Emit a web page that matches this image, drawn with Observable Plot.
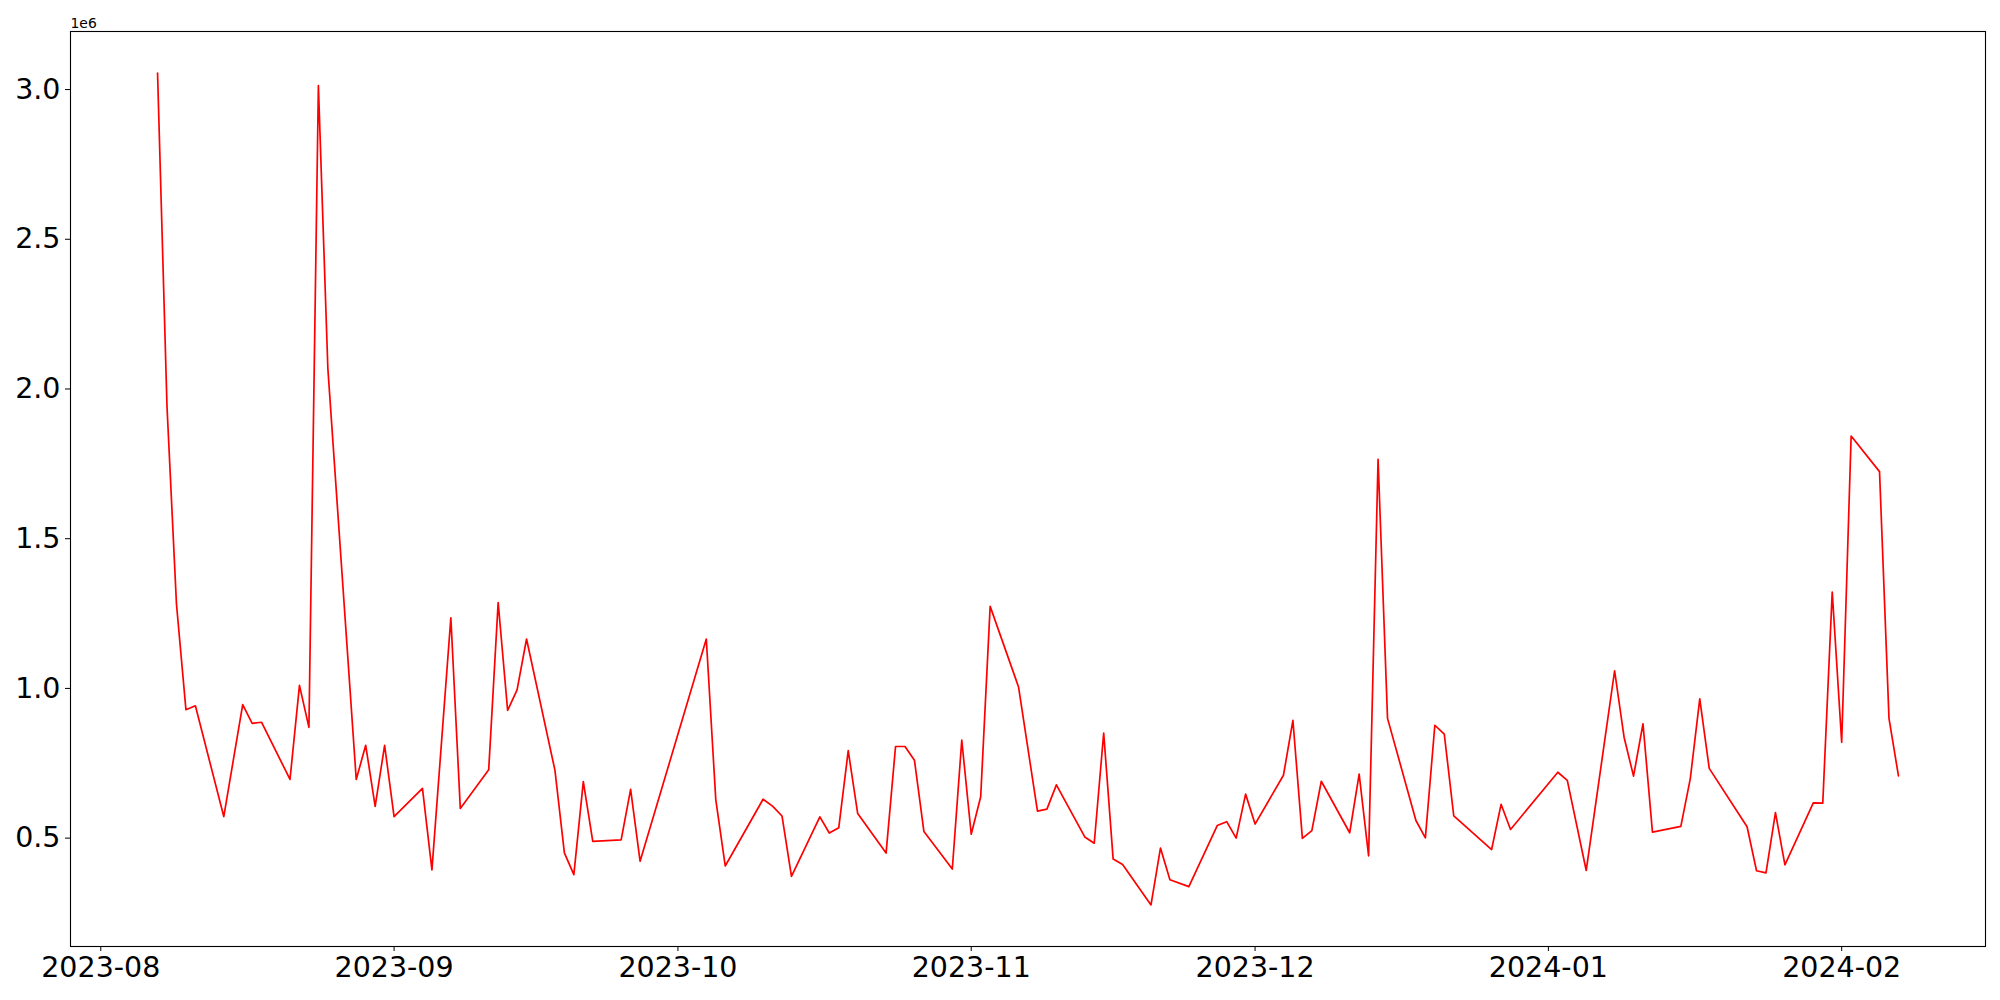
<!DOCTYPE html>
<html>
<head>
<meta charset="utf-8">
<script src="https://cdn.jsdelivr.net/npm/d3@7"></script>
<script src="https://cdn.jsdelivr.net/npm/@observablehq/plot@0.6"></script>
<style>
  html, body { margin: 0; padding: 0; background: #fff; }
  #chart svg { display: block; }
</style>
</head>
<body>
<div id="chart"></div>
<script>
const dates = [
  "2023-08-07","2023-08-08","2023-08-09","2023-08-10","2023-08-11","2023-08-14","2023-08-16","2023-08-17","2023-08-18",
  "2023-08-21","2023-08-22","2023-08-23","2023-08-24","2023-08-25","2023-08-28","2023-08-29","2023-08-30","2023-08-31",
  "2023-09-01","2023-09-04","2023-09-05","2023-09-07","2023-09-08","2023-09-11","2023-09-12","2023-09-13","2023-09-14",
  "2023-09-15","2023-09-18","2023-09-19","2023-09-20","2023-09-21","2023-09-22","2023-09-25","2023-09-26","2023-09-27",
  "2023-10-04","2023-10-05","2023-10-06","2023-10-10","2023-10-11","2023-10-12","2023-10-13","2023-10-16","2023-10-17",
  "2023-10-18","2023-10-19","2023-10-20","2023-10-23","2023-10-24","2023-10-25","2023-10-26","2023-10-27","2023-10-30",
  "2023-10-31","2023-11-01","2023-11-02","2023-11-03","2023-11-06","2023-11-08","2023-11-09","2023-11-10","2023-11-13",
  "2023-11-14","2023-11-15","2023-11-16","2023-11-17","2023-11-20","2023-11-21","2023-11-22","2023-11-24","2023-11-27",
  "2023-11-28","2023-11-29","2023-11-30","2023-12-01","2023-12-04","2023-12-05","2023-12-06","2023-12-07","2023-12-08",
  "2023-12-11","2023-12-12","2023-12-13","2023-12-14","2023-12-15","2023-12-18","2023-12-19","2023-12-20","2023-12-21",
  "2023-12-22","2023-12-26","2023-12-27","2023-12-28","2024-01-02","2024-01-03","2024-01-05","2024-01-08","2024-01-09",
  "2024-01-10","2024-01-11","2024-01-12","2024-01-15","2024-01-16","2024-01-17","2024-01-18","2024-01-22","2024-01-23",
  "2024-01-24","2024-01-25","2024-01-26","2024-01-29","2024-01-30","2024-01-31","2024-02-01","2024-02-02","2024-02-05",
  "2024-02-06","2024-02-07"
];
const values = [
  3055000,1941000,1282000,929000,942000,572000,946000,883000,887000,
  696000,1010000,870000,3013000,2069000,696000,810000,606000,810000,
  572000,666000,394000,1236000,599000,728000,1287000,927000,995000,
  1165000,727000,451000,378000,689000,489000,494000,663000,423000,
  1165000,629000,407000,630000,607000,574000,372000,571000,517000,
  535000,792000,582000,450000,806000,806000,760000,522000,397000,
  827000,513000,638000,1274000,1005000,590000,597000,678000,504000,
  483000,851000,430000,412000,277000,467000,361000,338000,542000,
  555000,500000,647000,547000,710000,893000,499000,525000,690000,
  518000,714000,441000,1765000,900000,559000,501000,877000,847000,
  574000,462000,613000,529000,720000,693000,392000,1059000,837000,
  707000,882000,520000,539000,699000,965000,733000,538000,391000,
  384000,585000,411000,618000,617000,1322000,820000,1843000,1724000,
  900000,708000
];
const yTicks = [500000, 1000000, 1500000, 2000000, 2500000, 3000000];
const offsetLabel = "1e6";

const data = dates.map((d, i) => ({date: d3.isoParse(d), value: values[i]}));

// matplotlib-like 5% margins
const xExt = d3.extent(data, d => +d.date);
const xPad = (xExt[1] - xExt[0]) * 0.05;
const yExt = d3.extent(data, d => d.value);
const yPad = (yExt[1] - yExt[0]) * 0.05;

const xTicks = d3.utcMonth.range(new Date(xExt[0] - xPad), new Date(xExt[1] + xPad));

const chart = Plot.plot({
  width: 2000,
  height: 1000,
  marginLeft: 70,
  marginRight: 15,
  marginTop: 31,
  marginBottom: 54,
  style: {fontFamily: "DejaVu Sans", fontSize: "28.5px", color: "black", background: "white"},
  x: {type: "utc", domain: [new Date(xExt[0] - xPad), new Date(xExt[1] + xPad)], ticks: xTicks,
      tickFormat: d3.utcFormat("%Y-%m"), tickSize: 5, tickPadding: 5, label: null},
  y: {domain: [yExt[0] - yPad, yExt[1] + yPad], ticks: yTicks,
      tickFormat: d => (d / 1e6).toFixed(1), tickSize: 5, tickPadding: 5, label: null},
  marks: [
    Plot.line(data, {x: "date", y: "value", stroke: "red", strokeWidth: 1.7}),
    Plot.frame({stroke: "black", strokeWidth: 1.1}),
    Plot.text([offsetLabel], {frameAnchor: "top-left", textAnchor: "start", lineAnchor: "bottom", dy: -4, fontSize: 13.9, fill: "black"})
  ]
});
document.getElementById("chart").appendChild(chart);
</script>
</body>
</html>
